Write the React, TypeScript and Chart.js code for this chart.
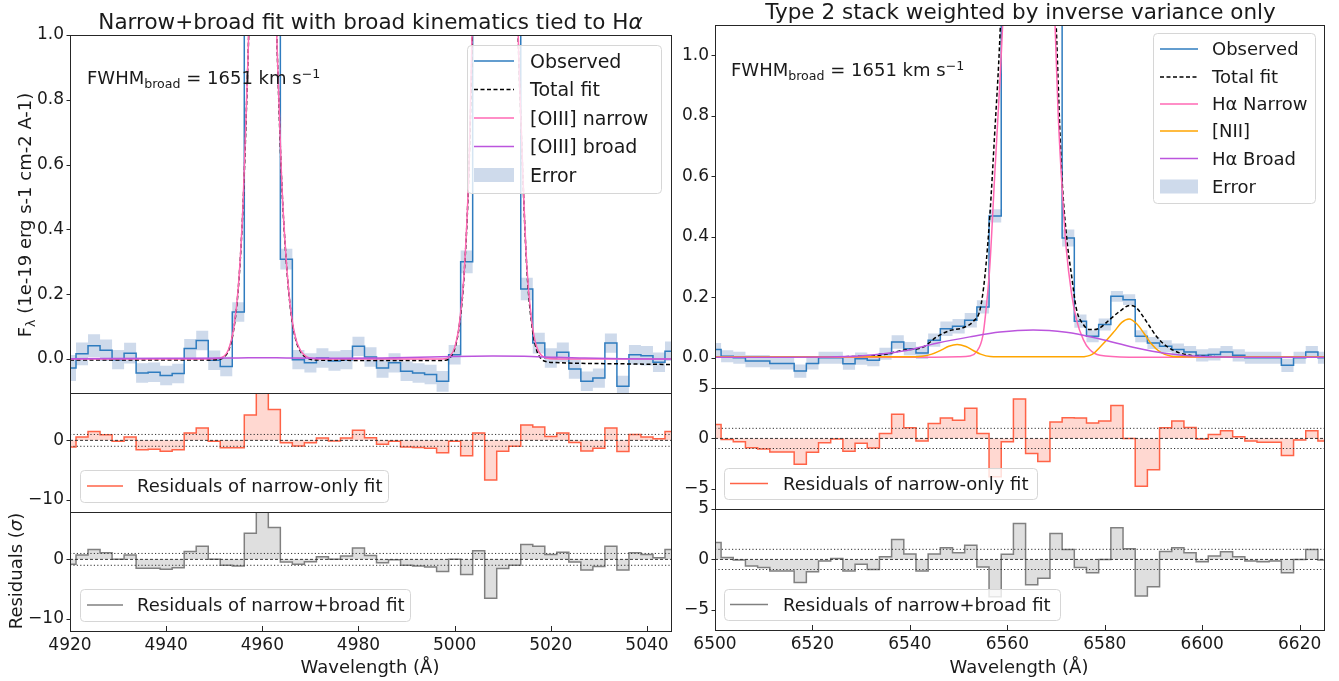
import React, { useEffect, useRef } from 'react';
import { Chart, registerables } from 'chart.js';

Chart.register(...registerables);

const FONT = "'DejaVu Sans', 'Liberation Sans', sans-serif";
Chart.defaults.font.family = FONT;

// ================= [OIII] region (left) =================
const waveL = [4920, 4922.5, 4925, 4927.5, 4930, 4932.5, 4935, 4937.5, 4940, 4942.5,
  4945, 4947.5, 4950, 4952.5, 4955, 4957.5, 4960, 4962.5, 4965, 4967.5,
  4970, 4972.5, 4975, 4977.5, 4980, 4982.5, 4985, 4987.5, 4990, 4992.5,
  4995, 4997.5, 5000, 5002.5, 5005, 5007.5, 5010, 5012.5, 5015, 5017.5,
  5020, 5022.5, 5025, 5027.5, 5030, 5032.5, 5035, 5037.5, 5040, 5042.5, 5045];
const obsL = [-0.028, 0.016, 0.041, 0.027, -0.002, 0.018, -0.043, -0.041, -0.051, -0.045,
  0.032, 0.057, -0.004, -0.023, 0.145, 1.3, 2.5, 1.45, 0.308, -0.002,
  -0.012, 0.003, -0.006, -0.002, 0.039, 0.006, -0.028, -0.012, -0.038, -0.043,
  -0.048, -0.069, 0.013, 0.30, 2.55, 5.4, 5.2, 1.75, 0.216, 0.049,
  0.003, 0.021, -0.031, -0.069, -0.059, 0.049, -0.084, 0.013, 0.010, -0.010, 0.024];
const errL = [0.04, 0.035, 0.035, 0.033, 0.03, 0.032, 0.03, 0.03, 0.03, 0.03,
  0.03, 0.03, 0.03, 0.03, 0.03, 0.05, 0.07, 0.05, 0.032, 0.03,
  0.03, 0.03, 0.03, 0.03, 0.03, 0.03, 0.03, 0.03, 0.03, 0.03,
  0.03, 0.032, 0.03, 0.035, 0.06, 0.09, 0.09, 0.06, 0.035, 0.032,
  0.03, 0.03, 0.03, 0.03, 0.03, 0.03, 0.032, 0.03, 0.03, 0.03, 0.03];
const fitWaveL = [4920, 4930, 4940, 4948, 4951, 4952, 4953, 4954, 4955, 4956,
  4957, 4958, 4959, 4960, 4961, 4962, 4963, 4964, 4965, 4966,
  4967, 4968, 4969, 4971, 4975, 4985, 4995, 4998, 4999, 5000,
  5001, 5002, 5003, 5004, 5005, 5006, 5007, 5008.5, 5010, 5011,
  5012, 5013, 5014, 5015, 5016, 5017, 5018, 5019, 5021, 5025, 5035, 5045];
const narrowL = [0, 0, 0, 0, 0.002, 0.008, 0.03, 0.09, 0.22, 0.48,
  0.92, 1.45, 1.85, 2.0, 1.9, 1.5, 1.0, 0.56, 0.3, 0.14,
  0.06, 0.025, 0.009, 0.001, 0, 0, 0, 0.001, 0.008, 0.035,
  0.11, 0.27, 0.6, 1.25, 2.3, 3.6, 4.9, 5.8, 5.2, 4.0,
  2.3, 1.15, 0.65, 0.29, 0.12, 0.04, 0.012, 0.003, 0, 0, 0, 0];
const totalL = [-0.003, -0.003, -0.003, -0.003, -0.001, 0.005, 0.027, 0.087, 0.217, 0.477,
  0.917, 1.447, 1.847, 1.997, 1.897, 1.497, 0.997, 0.557, 0.297, 0.137,
  0.057, 0.022, 0.006, -0.003, -0.004, -0.005, -0.005, -0.004, 0.003, 0.031,
  0.106, 0.266, 0.596, 1.246, 2.3, 3.6, 4.9, 5.8, 5.2, 4.0,
  2.3, 1.15, 0.645, 0.283, 0.111, 0.03, 0.001, -0.008, -0.011, -0.013, -0.015, -0.017];
const broadWaveL = [4920, 4940, 4955, 4960, 4965, 4975, 4985, 4995, 5000, 5008, 5016, 5021, 5027, 5035, 5045];
const broadL = [0.001, 0.002, 0.003, 0.004, 0.003, 0.002, 0.003, 0.006, 0.008, 0.009, 0.008, 0.005, 0.003, 0.001, 0.0];
const resNarrowL = [-1.1, 0.56, 1.5, 0.96, -0.17, 0.56, -1.57, -1.5, -1.85, -1.57,
  1.24, 2.08, -0.17, -1.24, -1.24, 4.3, 14, 5.2, -0.4, -0.96,
  -0.4, 0.4, -0.1, 0.4, 1.7, 0.45, -0.67, -0.17, -1.1, -1.2,
  -1.35, -2.1, -0.17, -2.6, 1.24, -6.7, -1.85, -1.0, 2.6, 2.25,
  0.67, 1.24, -0.34, -1.8, -1.35, 2.08, -1.9, 1.0, 0.56, 0.28, 1.5];
const resBroadL = [-0.83, 0.72, 1.67, 1.1, 0, 0.72, -1.5, -1.5, -1.67, -1.4,
  1.33, 2.2, 0, -1.0, -1.1, 4.4, 14, 5.4, -0.44, -0.83,
  -0.4, 0.44, 0, 0.56, 1.94, 0.67, -0.56, -0.05, -1.0, -1.1,
  -1.3, -2.06, 0, -2.56, 1.44, -6.56, -1.56, -1.0, 2.5, 2.2,
  0.83, 1.22, -0.44, -1.78, -1.22, 2.2, -1.78, 1.1, 0.83, 0.28, 1.67];

// ================= Halpha region (right) =================
const waveR = [6500, 6502.5, 6505, 6507.5, 6510, 6512.5, 6515, 6517.5, 6520, 6522.5,
  6525, 6527.5, 6530, 6532.5, 6535, 6537.5, 6540, 6542.5, 6545, 6547.5,
  6550, 6552.5, 6555, 6557.5, 6560, 6562.5, 6565, 6567.5, 6570, 6572.5,
  6575, 6577.5, 6580, 6582.5, 6585, 6587.5, 6590, 6592.5, 6595, 6597.5,
  6600, 6602.5, 6605, 6607.5, 6610, 6612.5, 6615, 6617.5, 6620, 6622.5, 6625];
const obsR = [0.027, 0.005, 0.0, -0.011, -0.011, -0.019, -0.019, -0.044, -0.019, 0.0,
  0.0, -0.02, -0.003, -0.008, 0.013, 0.052, 0.03, 0.016, 0.058, 0.096,
  0.104, 0.124, 0.168, 0.469, 1.9, 3.6, 3.4, 2.1, 1.2, 0.396,
  0.121, 0.071, 0.11, 0.203, 0.192, 0.071, 0.049, 0.038, 0.027, 0.019,
  0.008, 0.011, 0.019, 0.008, 0.0, 0.0, 0.0, -0.025, 0.0, 0.019, 0.0];
const errR = [0.022, 0.02, 0.02, 0.02, 0.02, 0.02, 0.02, 0.022, 0.02, 0.02,
  0.02, 0.02, 0.02, 0.02, 0.02, 0.022, 0.022, 0.02, 0.022, 0.024,
  0.024, 0.024, 0.022, 0.022, 0.05, 0.06, 0.06, 0.05, 0.04, 0.028,
  0.022, 0.02, 0.02, 0.018, 0.018, 0.02, 0.02, 0.02, 0.02, 0.02,
  0.02, 0.02, 0.02, 0.02, 0.02, 0.02, 0.02, 0.022, 0.02, 0.02, 0.02];
const narrowWaveR = [6500, 6545, 6550, 6552.3, 6553.7, 6555, 6555.7, 6556.4, 6557.4, 6558.5,
  6559.1, 6560.5, 6562, 6564.4, 6567, 6568.5, 6569.7, 6570.4, 6571.4, 6572.1,
  6573.2, 6574.2, 6575.6, 6576.9, 6579, 6585, 6625];
const narrowR = [0.002, 0.002, 0.003, 0.006, 0.02, 0.075, 0.17, 0.3, 0.6, 0.92,
  1.12, 1.75, 2.5, 3.0, 2.4, 1.7, 1.15, 0.82, 0.52, 0.36,
  0.21, 0.125, 0.06, 0.027, 0.008, 0.002, 0.002];
const niiWaveR = [6500, 6540, 6542.5, 6544.5, 6546.5, 6548, 6549.7, 6551.5, 6553, 6554.5,
  6556.5, 6560, 6575, 6577.5, 6579, 6580.5, 6582, 6583.5, 6585, 6586.5,
  6588, 6589.4, 6591.4, 6593.5, 6596, 6625];
const niiR = [0.003, 0.003, 0.005, 0.012, 0.026, 0.038, 0.044, 0.037, 0.024, 0.012,
  0.004, 0.003, 0.003, 0.012, 0.035, 0.06, 0.088, 0.117, 0.128, 0.113,
  0.082, 0.049, 0.019, 0.006, 0.003, 0.003];
const broadWaveR = [6500, 6515, 6525, 6531.8, 6538.6, 6545.5, 6552.3, 6558.5, 6565.3, 6572.1,
  6579, 6585.8, 6592.7, 6600, 6610, 6625];
const broadR = [0.002, 0.002, 0.003, 0.008, 0.022, 0.048, 0.069, 0.085, 0.092, 0.084,
  0.062, 0.035, 0.014, 0.004, 0.002, 0.002];
const totalWaveR = [6500, 6520, 6530, 6534.5, 6538.6, 6542.7, 6545.5, 6548.2, 6550.9, 6553,
  6554.4, 6555.4, 6556.4, 6557.4, 6558.5, 6560, 6562, 6564.4, 6567, 6568.5,
  6570.1, 6571.1, 6572.1, 6573.2, 6574.2, 6575.6, 6576.9, 6577.9, 6579, 6581,
  6583.1, 6585.1, 6586.5, 6588.5, 6590.6, 6592.7, 6595.4, 6599.5, 6610, 6625];
const totalR = [0.003, 0.003, 0.005, 0.01, 0.025, 0.035, 0.069, 0.09, 0.099, 0.12,
  0.159, 0.27, 0.467, 0.74, 1.07, 1.8, 2.6, 3.1, 2.5, 1.8,
  1.07, 0.63, 0.41, 0.27, 0.16, 0.11, 0.093, 0.093, 0.099, 0.126,
  0.154, 0.173, 0.165, 0.121, 0.071, 0.038, 0.016, 0.005, 0.003, 0.003];
const resNarrowR = [1.37, -0.1, -0.33, -0.92, -1.05, -1.34, -1.34, -2.55, -1.37, -0.42,
  -0.07, -1.27, -0.49, -0.95, 0.49, 2.39, 1.05, -0.26, 1.47, 2.03,
  1.8, 3.0, 0.49, -3.8, -0.33, 3.9, -1.5, -2.29, 1.63, 2.06,
  2.03, 1.54, 1.73, 3.27, 0, -4.74, -3.1, 1.05, 1.73, 1.08,
  -0.07, 0.39, 0.75, 0.16, -0.26, -0.39, -0.39, -1.7, -0.16, 0.75, -0.26];
const resBroadR = [1.68, 0.2, -0.07, -0.66, -0.79, -1.15, -1.15, -2.3, -1.22, -0.16,
  0.1, -1.15, -0.49, -0.99, 0.26, 1.97, 0.53, -1.15, 0.53, 1.15,
  0.66, 1.41, -0.75, -3.7, 0.52, 3.55, -2.5, -1.88, 2.57, 0.99,
  -0.79, -1.32, 0, 3.13, 1.05, -3.62, -2.7, 0.79, 1.15, 0.66,
  -0.23, 0.33, 0.76, 0.26, -0.16, -0.23, -0.16, -1.32, 0, 0.99, -0.07];

// ================= Ticks / reference levels / labels =================
const xTicksL = [4920, 4940, 4960, 4980, 5000, 5020, 5040];
const xTicksR = [6500, 6520, 6540, 6560, 6580, 6600, 6620];
const yTicksMain = [0, 0.2, 0.4, 0.6, 0.8, 1.0];
const yTicksResL = [-10, 0];
const yTicksResR = [-5, 0, 5];
const sigmaLevels = [1, -1];
const zeroLevel = 0;
const legendMainL = ['Observed', 'Total fit', '[OIII] narrow', '[OIII] broad', 'Error'];
const legendMainR = ['Observed', 'Total fit', 'H\u03b1 Narrow', '[NII]', 'H\u03b1 Broad', 'Error'];
const legendResNarrow = 'Residuals of narrow-only fit';
const legendResBroad = 'Residuals of narrow+broad fit';

// ================= Styling =================
const C = {
  blue: '#2f7cbf',
  pink: '#ff69b4',
  purple: '#bb55dd',
  orange: '#ffa500',
  black: '#000000',
  band: 'rgba(176,196,222,0.62)',
  red: '#ff6347',
  redFill: 'rgba(255,99,71,0.25)',
  gray: '#808080',
  grayFill: 'rgba(128,128,128,0.25)',
  text: '#1a1a1a',
};
const DASH = [4, 2.5];

const pts = (xs: number[], ys: number[]) => xs.map((x, i) => ({ x, y: ys[i] }));

function curve(xs: number[], ys: number[], color: string, dash: number[] = []) {
  return {
    data: pts(xs, ys), borderColor: color, borderWidth: 1.5, borderDash: dash,
    pointRadius: 0, cubicInterpolationMode: 'monotone', fill: false,
  };
}
function stepLine(xs: number[], ys: number[], color: string, fill: any = false, bg = 'transparent') {
  return {
    data: pts(xs, ys), borderColor: color, borderWidth: 1.5, pointRadius: 0,
    stepped: 'middle', fill, backgroundColor: bg,
  };
}
function band(xs: number[], obs: number[], err: number[]) {
  const hi = obs.map((v, i) => v + err[i]);
  const lo = obs.map((v, i) => v - err[i]);
  return [
    { data: pts(xs, hi), borderWidth: 0, pointRadius: 0, stepped: 'middle', fill: '+1', backgroundColor: C.band, borderColor: 'transparent' },
    { data: pts(xs, lo), borderWidth: 0, pointRadius: 0, stepped: 'middle', fill: false, borderColor: 'transparent' },
  ];
}
function refLine(x0: number, x1: number, level: number, dash: number[]) {
  return {
    data: [{ x: x0, y: level }, { x: x1, y: level }], borderColor: '#333333',
    borderWidth: 1, borderDash: dash, pointRadius: 0, fill: false,
  };
}

type LegendItem = { label: string; color: string; kind: 'line' | 'patch'; dash?: number[] };
type LegendSpec = { box: number[]; lineX: number[]; textX: number; rows: number[]; font: number; items: LegendItem[] };
type Panel = {
  id: string; x0: number; x1: number; y0: number; y1: number;
  xMin: number; xMax: number; yMin: number; yMax: number;
  yTicks: number[]; yFmt: (v: number) => string; xTicks: number[] | null;
  datasets: any[]; legend: LegendSpec;
};

const fmtMain = (v: number) => v.toFixed(1);
const fmtRes = (v: number) => (v < 0 ? '\u2212' + Math.abs(v) : String(v));

const PAD_L = 62, PAD_T = 20, PAD_R = 10, PAD_B = 20, XAX_H = 30;

function residualPanel(id: string, xs: number[], ys: number[], color: string, fillColor: string,
  xMin: number, xMax: number, yMin: number, yMax: number, yTicks: number[],
  geo: { x0: number; x1: number; y0: number; y1: number }, xTicks: number[] | null, legend: LegendSpec): Panel {
  return {
    id, ...geo, xMin, xMax, yMin, yMax, yTicks, yFmt: fmtRes, xTicks,
    datasets: [
      refLine(xMin, xMax, zeroLevel, [3, 2]),
      ...sigmaLevels.map((s) => refLine(xMin, xMax, s, [1.2, 2.2])),
      stepLine(xs, ys, color, 'origin', fillColor),
    ],
    legend,
  };
}

const panels: Panel[] = [
  {
    id: 'mainL', x0: 70, x1: 671, y0: 35, y1: 393,
    xMin: 4920, xMax: 5045, yMin: -0.105, yMax: 1.0, yTicks: yTicksMain, yFmt: fmtMain, xTicks: null,
    datasets: [
      curve(broadWaveL, broadL, C.purple),
      curve(fitWaveL, narrowL, C.pink),
      curve(fitWaveL, totalL, C.black, DASH),
      stepLine(waveL, obsL, C.blue),
      ...band(waveL, obsL, errL),
    ],
    legend: {
      box: [467, 45, 661, 193], lineX: [474, 514], textX: 530, rows: [61, 89.5, 118, 146.5, 175], font: 19,
      items: [
        { label: legendMainL[0], color: C.blue, kind: 'line' },
        { label: legendMainL[1], color: C.black, kind: 'line', dash: DASH },
        { label: legendMainL[2], color: C.pink, kind: 'line' },
        { label: legendMainL[3], color: C.purple, kind: 'line' },
        { label: legendMainL[4], color: C.band, kind: 'patch' },
      ],
    },
  },
  residualPanel('r1L', waveL, resNarrowL, C.red, C.redFill, 4920, 5045, -12.1, 8, yTicksResL,
    { x0: 70, x1: 671, y0: 393, y1: 512 }, null,
    { box: [80, 470, 388, 502], lineX: [87, 123], textX: 137, rows: [486], font: 18, items: [{ label: legendResNarrow, color: C.red, kind: 'line' }] }),
  residualPanel('r2L', waveL, resBroadL, C.gray, C.grayFill, 4920, 5045, -12.1, 8, yTicksResL,
    { x0: 70, x1: 671, y0: 512, y1: 631 }, xTicksL,
    { box: [80, 589, 410, 621], lineX: [87, 123], textX: 137, rows: [605], font: 18, items: [{ label: legendResBroad, color: C.gray, kind: 'line' }] }),
  {
    id: 'mainR', x0: 715, x1: 1324, y0: 25, y1: 388,
    xMin: 6500, xMax: 6625, yMin: -0.1, yMax: 1.1, yTicks: yTicksMain, yFmt: fmtMain, xTicks: null,
    datasets: [
      curve(broadWaveR, broadR, C.purple),
      curve(niiWaveR, niiR, C.orange),
      curve(narrowWaveR, narrowR, C.pink),
      curve(totalWaveR, totalR, C.black, DASH),
      stepLine(waveR, obsR, C.blue),
      ...band(waveR, obsR, errR),
    ],
    legend: {
      box: [1153, 33, 1315, 203], lineX: [1160, 1198], textX: 1212, rows: [49, 77, 104, 131, 158.5, 186.5], font: 18,
      items: [
        { label: legendMainR[0], color: C.blue, kind: 'line' },
        { label: legendMainR[1], color: C.black, kind: 'line', dash: DASH },
        { label: legendMainR[2], color: C.pink, kind: 'line' },
        { label: legendMainR[3], color: C.orange, kind: 'line' },
        { label: legendMainR[4], color: C.purple, kind: 'line' },
        { label: legendMainR[5], color: C.band, kind: 'patch' },
      ],
    },
  },
  residualPanel('r1R', waveR, resNarrowR, C.red, C.redFill, 6500, 6625, -7, 5, yTicksResR,
    { x0: 715, x1: 1324, y0: 388, y1: 509 }, null,
    { box: [724, 468, 1037, 499], lineX: [730, 768], textX: 783, rows: [483.5], font: 18, items: [{ label: legendResNarrow, color: C.red, kind: 'line' }] }),
  residualPanel('r2R', waveR, resBroadR, C.gray, C.grayFill, 6500, 6625, -7, 5, yTicksResR,
    { x0: 715, x1: 1324, y0: 509, y1: 630 }, xTicksR,
    { box: [724, 589, 1060, 620], lineX: [730, 768], textX: 783, rows: [604.5], font: 18, items: [{ label: legendResBroad, color: C.gray, kind: 'line' }] }),
];

function makeDecor(p: Panel, ox: number, oy: number) {
  return {
    id: 'decor_' + p.id,
    afterDraw(chart: any) {
      const ctx = chart.ctx as CanvasRenderingContext2D;
      const a = chart.chartArea;
      const ys = chart.scales.y;
      const xs = chart.scales.x;
      ctx.save();
      ctx.strokeStyle = '#262626';
      ctx.lineWidth = 1;
      ctx.setLineDash([]);
      ctx.beginPath();
      p.yTicks.forEach((v) => {
        const py = Math.round(ys.getPixelForValue(v)) + 0.5;
        ctx.moveTo(a.left - 3.5, py);
        ctx.lineTo(a.left, py);
      });
      if (p.xTicks) {
        p.xTicks.forEach((v) => {
          const px = Math.round(xs.getPixelForValue(v)) + 0.5;
          ctx.moveTo(px, a.bottom);
          ctx.lineTo(px, a.bottom - 5);
        });
      }
      ctx.stroke();
      ctx.strokeRect(a.left + 0.5, a.top + 0.5, a.right - a.left, a.bottom - a.top);

      const L = p.legend;
      const bx = L.box[0] - ox, by = L.box[1] - oy;
      const bw = L.box[2] - L.box[0], bh = L.box[3] - L.box[1];
      ctx.beginPath();
      if ((ctx as any).roundRect) (ctx as any).roundRect(bx + 0.5, by + 0.5, bw, bh, 4);
      else ctx.rect(bx + 0.5, by + 0.5, bw, bh);
      ctx.fillStyle = 'rgba(255,255,255,0.8)';
      ctx.fill();
      ctx.strokeStyle = '#d6d6d6';
      ctx.stroke();
      L.items.forEach((it, i) => {
        const ry = L.rows[i] - oy;
        const lx0 = L.lineX[0] - ox, lx1 = L.lineX[1] - ox;
        if (it.kind === 'patch') {
          ctx.fillStyle = it.color;
          ctx.fillRect(lx0, ry - 7, lx1 - lx0, 14);
        } else {
          ctx.beginPath();
          ctx.strokeStyle = it.color;
          ctx.lineWidth = 1.5;
          ctx.setLineDash(it.dash || []);
          ctx.moveTo(lx0, ry);
          ctx.lineTo(lx1, ry);
          ctx.stroke();
          ctx.setLineDash([]);
        }
        ctx.fillStyle = C.text;
        ctx.font = `${L.font}px ${FONT}`;
        ctx.textAlign = 'left';
        ctx.textBaseline = 'alphabetic';
        ctx.fillText(it.label, L.textX - ox, ry + 0.36 * L.font);
      });
      ctx.restore();
    },
  };
}

function PanelChart({ p }: { p: Panel }) {
  const ref = useRef<HTMLCanvasElement | null>(null);
  const left = p.x0 - PAD_L;
  const top = p.y0 - PAD_T;
  const w = p.x1 - p.x0 + PAD_L + PAD_R;
  const h = p.y1 - p.y0 + PAD_T + PAD_B + (p.xTicks ? XAX_H : 0);
  useEffect(() => {
    if (!ref.current) return;
    const xScale: any = {
      type: 'linear', min: p.xMin, max: p.xMax, display: !!p.xTicks,
      grid: { display: false, drawTicks: false, tickLength: 0 }, border: { display: false },
      ticks: {
        autoSkip: false, maxRotation: 0, minRotation: 0, padding: 4, color: C.text,
        font: { size: 17, family: FONT }, callback: (v: any) => String(v),
      },
      afterBuildTicks: (s: any) => { s.ticks = (p.xTicks || []).map((v) => ({ value: v })); },
    };
    if (p.xTicks) xScale.afterFit = (s: any) => { s.height = XAX_H; };
    const chart = new Chart(ref.current, {
      type: 'line',
      data: { datasets: p.datasets },
      options: {
        responsive: false,
        animation: false,
        devicePixelRatio: 1,
        events: [],
        layout: { padding: { left: 0, top: PAD_T, right: PAD_R, bottom: PAD_B } },
        plugins: { legend: { display: false }, tooltip: { enabled: false } },
        scales: {
          x: xScale,
          y: {
            type: 'linear', min: p.yMin, max: p.yMax,
            grid: { display: false, drawTicks: false, tickLength: 0 }, border: { display: false },
            ticks: {
              autoSkip: false, padding: 6, color: C.text,
              font: { size: 17, family: FONT }, callback: (v: any) => p.yFmt(Number(v)),
            },
            afterBuildTicks: (s: any) => { s.ticks = p.yTicks.map((v) => ({ value: v })); },
            afterFit: (s: any) => { s.width = PAD_L; },
          },
        },
      } as any,
      plugins: [makeDecor(p, left, top)],
    });
    return () => chart.destroy();
  }, []);
  return <canvas ref={ref} width={w} height={h} style={{ position: 'absolute', left, top, width: w, height: h }} />;
}

const txt = (extra: React.CSSProperties): React.CSSProperties => ({
  position: 'absolute', fontFamily: FONT, color: C.text, whiteSpace: 'nowrap', lineHeight: 1, ...extra,
});
const subStyle: React.CSSProperties = { fontSize: '0.7em', position: 'relative', top: '0.28em', lineHeight: 0 };
const supStyle: React.CSSProperties = { fontSize: '0.7em', position: 'relative', top: '-0.45em', lineHeight: 0 };

function Fwhm({ x, y }: { x: number; y: number }) {
  return (
    <div style={txt({ left: x, top: y, fontSize: 18, transform: 'translateY(-50%)' })}>
      FWHM<span style={subStyle}>broad</span> = 1651 km s<span style={supStyle}>{'\u22121'}</span>
    </div>
  );
}

export default function App() {
  return (
    <div style={{ position: 'absolute', left: 0, top: 0, width: 1339, height: 681, background: '#ffffff', overflow: 'hidden' }}>
      {panels.map((p) => <PanelChart key={p.id} p={p} />)}
      <div style={txt({ left: 370.5, top: 22, fontSize: 21.5, transform: 'translate(-50%,-50%)' })}>
        Narrow+broad fit with broad kinematics tied to H<i>{'\u03b1'}</i>
      </div>
      <div style={txt({ left: 1020.5, top: 11.5, fontSize: 21.5, transform: 'translate(-50%,-50%)' })}>
        Type 2 stack weighted by inverse variance only
      </div>
      <Fwhm x={87} y={78} />
      <Fwhm x={731} y={70} />
      <div style={txt({ left: 24.5, top: 215, fontSize: 18, transform: 'translate(-50%,-50%) rotate(-90deg)' })}>
        F<span style={subStyle}>{'\u03bb'}</span> (1e-19 erg s-1 cm-2 A-1)
      </div>
      <div style={txt({ left: 15.5, top: 570.5, fontSize: 18, transform: 'translate(-50%,-50%) rotate(-90deg)' })}>
        Residuals (<i>{'\u03c3'}</i>)
      </div>
      <div style={txt({ left: 370, top: 667, fontSize: 18, transform: 'translate(-50%,-50%)' })}>
        Wavelength ({'\u00c5'})
      </div>
      <div style={txt({ left: 1019, top: 667, fontSize: 18, transform: 'translate(-50%,-50%)' })}>
        Wavelength ({'\u00c5'})
      </div>
    </div>
  );
}
